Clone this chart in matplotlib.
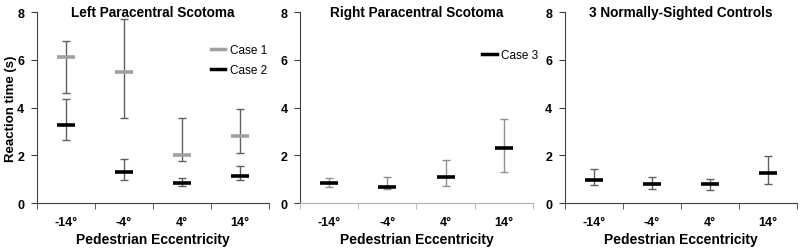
import numpy as np
import matplotlib
matplotlib.use("Agg")
from matplotlib import pyplot as plt

plt.rcParams['font.family'] = ['Liberation Sans', 'DejaVu Sans']

ecc_labels = ["-14°", "-4°", "4°", "14°"]

# Left paracentral scotoma
case1_mean = [6.10, 5.47, 2.02, 2.80]
case1_low = [4.60, 3.58, 1.77, 2.10]
case1_high = [6.77, 7.70, 3.55, 3.93]
case2_mean = [3.28, 1.31, 0.83, 1.15]
case2_low = [2.64, 0.96, 0.71, 0.95]
case2_high = [4.35, 1.83, 1.07, 1.57]

# Right paracentral scotoma
case3_mean = [0.86, 0.68, 1.08, 2.30]
case3_low = [0.66, 0.60, 0.72, 1.30]
case3_high = [1.05, 1.10, 1.80, 3.50]

# Controls
ctrl_mean = [0.97, 0.78, 0.78, 1.25]
ctrl_low = [0.74, 0.60, 0.54, 0.79]
ctrl_high = [1.42, 1.09, 1.00, 1.97]


def draw_series(ax, mean, low, high, color, ecolor, elw=1.0, label=None):
    x = np.arange(len(mean))
    mean = np.array(mean)
    yerr = [mean - np.array(low), np.array(high) - mean]
    ax.errorbar(x, mean, yerr=yerr, fmt='none', ecolor=ecolor,
                elinewidth=elw, capsize=3, capthick=1, zorder=2)
    ax.plot(x, mean, linestyle='none', marker='_', markersize=13,
            markeredgewidth=2.6, color=color, zorder=3)
    if label:
        ax.plot([], [], color=color, lw=2.5, label=label)


def style_axis(ax, title, spine_color='#404040'):
    ax.set_xlim(-0.5, 3.5)
    ax.set_ylim(0, 8)
    ax.set_yticks([0, 2, 4, 6, 8])
    ax.set_xticks(range(4))
    ax.set_xticklabels(ecc_labels)
    ax.set_xticks(np.arange(-0.5, 4, 1), minor=True)
    ax.tick_params(axis='x', which='major', length=0, pad=9)
    ax.tick_params(axis='x', which='minor', length=4, direction='out',
                   color=spine_color)
    ax.tick_params(axis='y', length=4, direction='out', color='#404040',
                   pad=5)
    for lab in ax.get_xticklabels() + ax.get_yticklabels():
        lab.set_fontweight('bold')
        lab.set_fontsize(9)
    for s in ['top', 'right']:
        ax.spines[s].set_visible(False)
    ax.spines['left'].set_color('#404040')
    ax.spines['bottom'].set_color(spine_color)
    ax.set_xlabel("Pedestrian Eccentricity", fontweight='bold', fontsize=10,
                  labelpad=3)
    ax.set_title(title, fontweight='bold', fontsize=9.8, pad=-3, y=1.0)


fig = plt.figure(figsize=(8, 2.51), dpi=100)
ax1 = fig.add_axes([0.046, 0.187, 0.29, 0.761])
ax2 = fig.add_axes([0.375, 0.187, 0.291, 0.761])
ax3 = fig.add_axes([0.706, 0.187, 0.29, 0.761])

draw_series(ax1, case1_mean, case1_low, case1_high, '#a0a0a0', '#606060',
            label="Case 1")
draw_series(ax1, case2_mean, case2_low, case2_high, 'black', '#606060',
            label="Case 2")
style_axis(ax1, "Left Paracentral Scotoma")
ax1.set_ylabel("Reaction time (s)", fontweight='bold', fontsize=9.5,
               labelpad=0)
ax1.legend(loc='upper right', bbox_to_anchor=(1.04, 0.89), frameon=False,
           fontsize=8.5, handlelength=1.2, handletextpad=0.4,
           labelspacing=0.7)

draw_series(ax2, case3_mean, case3_low, case3_high, 'black', '#909090',
            label="Case 3")
style_axis(ax2, "Right Paracentral Scotoma", spine_color='#b0b0b0')
ax2.legend(loc='upper right', bbox_to_anchor=(1.07, 0.86), frameon=False,
           fontsize=8.5, handlelength=1.2, handletextpad=0.4)

draw_series(ax3, ctrl_mean, ctrl_low, ctrl_high, 'black', '#606060')
style_axis(ax3, "3 Normally-Sighted Controls")

fig.savefig("out.png", dpi=100)
